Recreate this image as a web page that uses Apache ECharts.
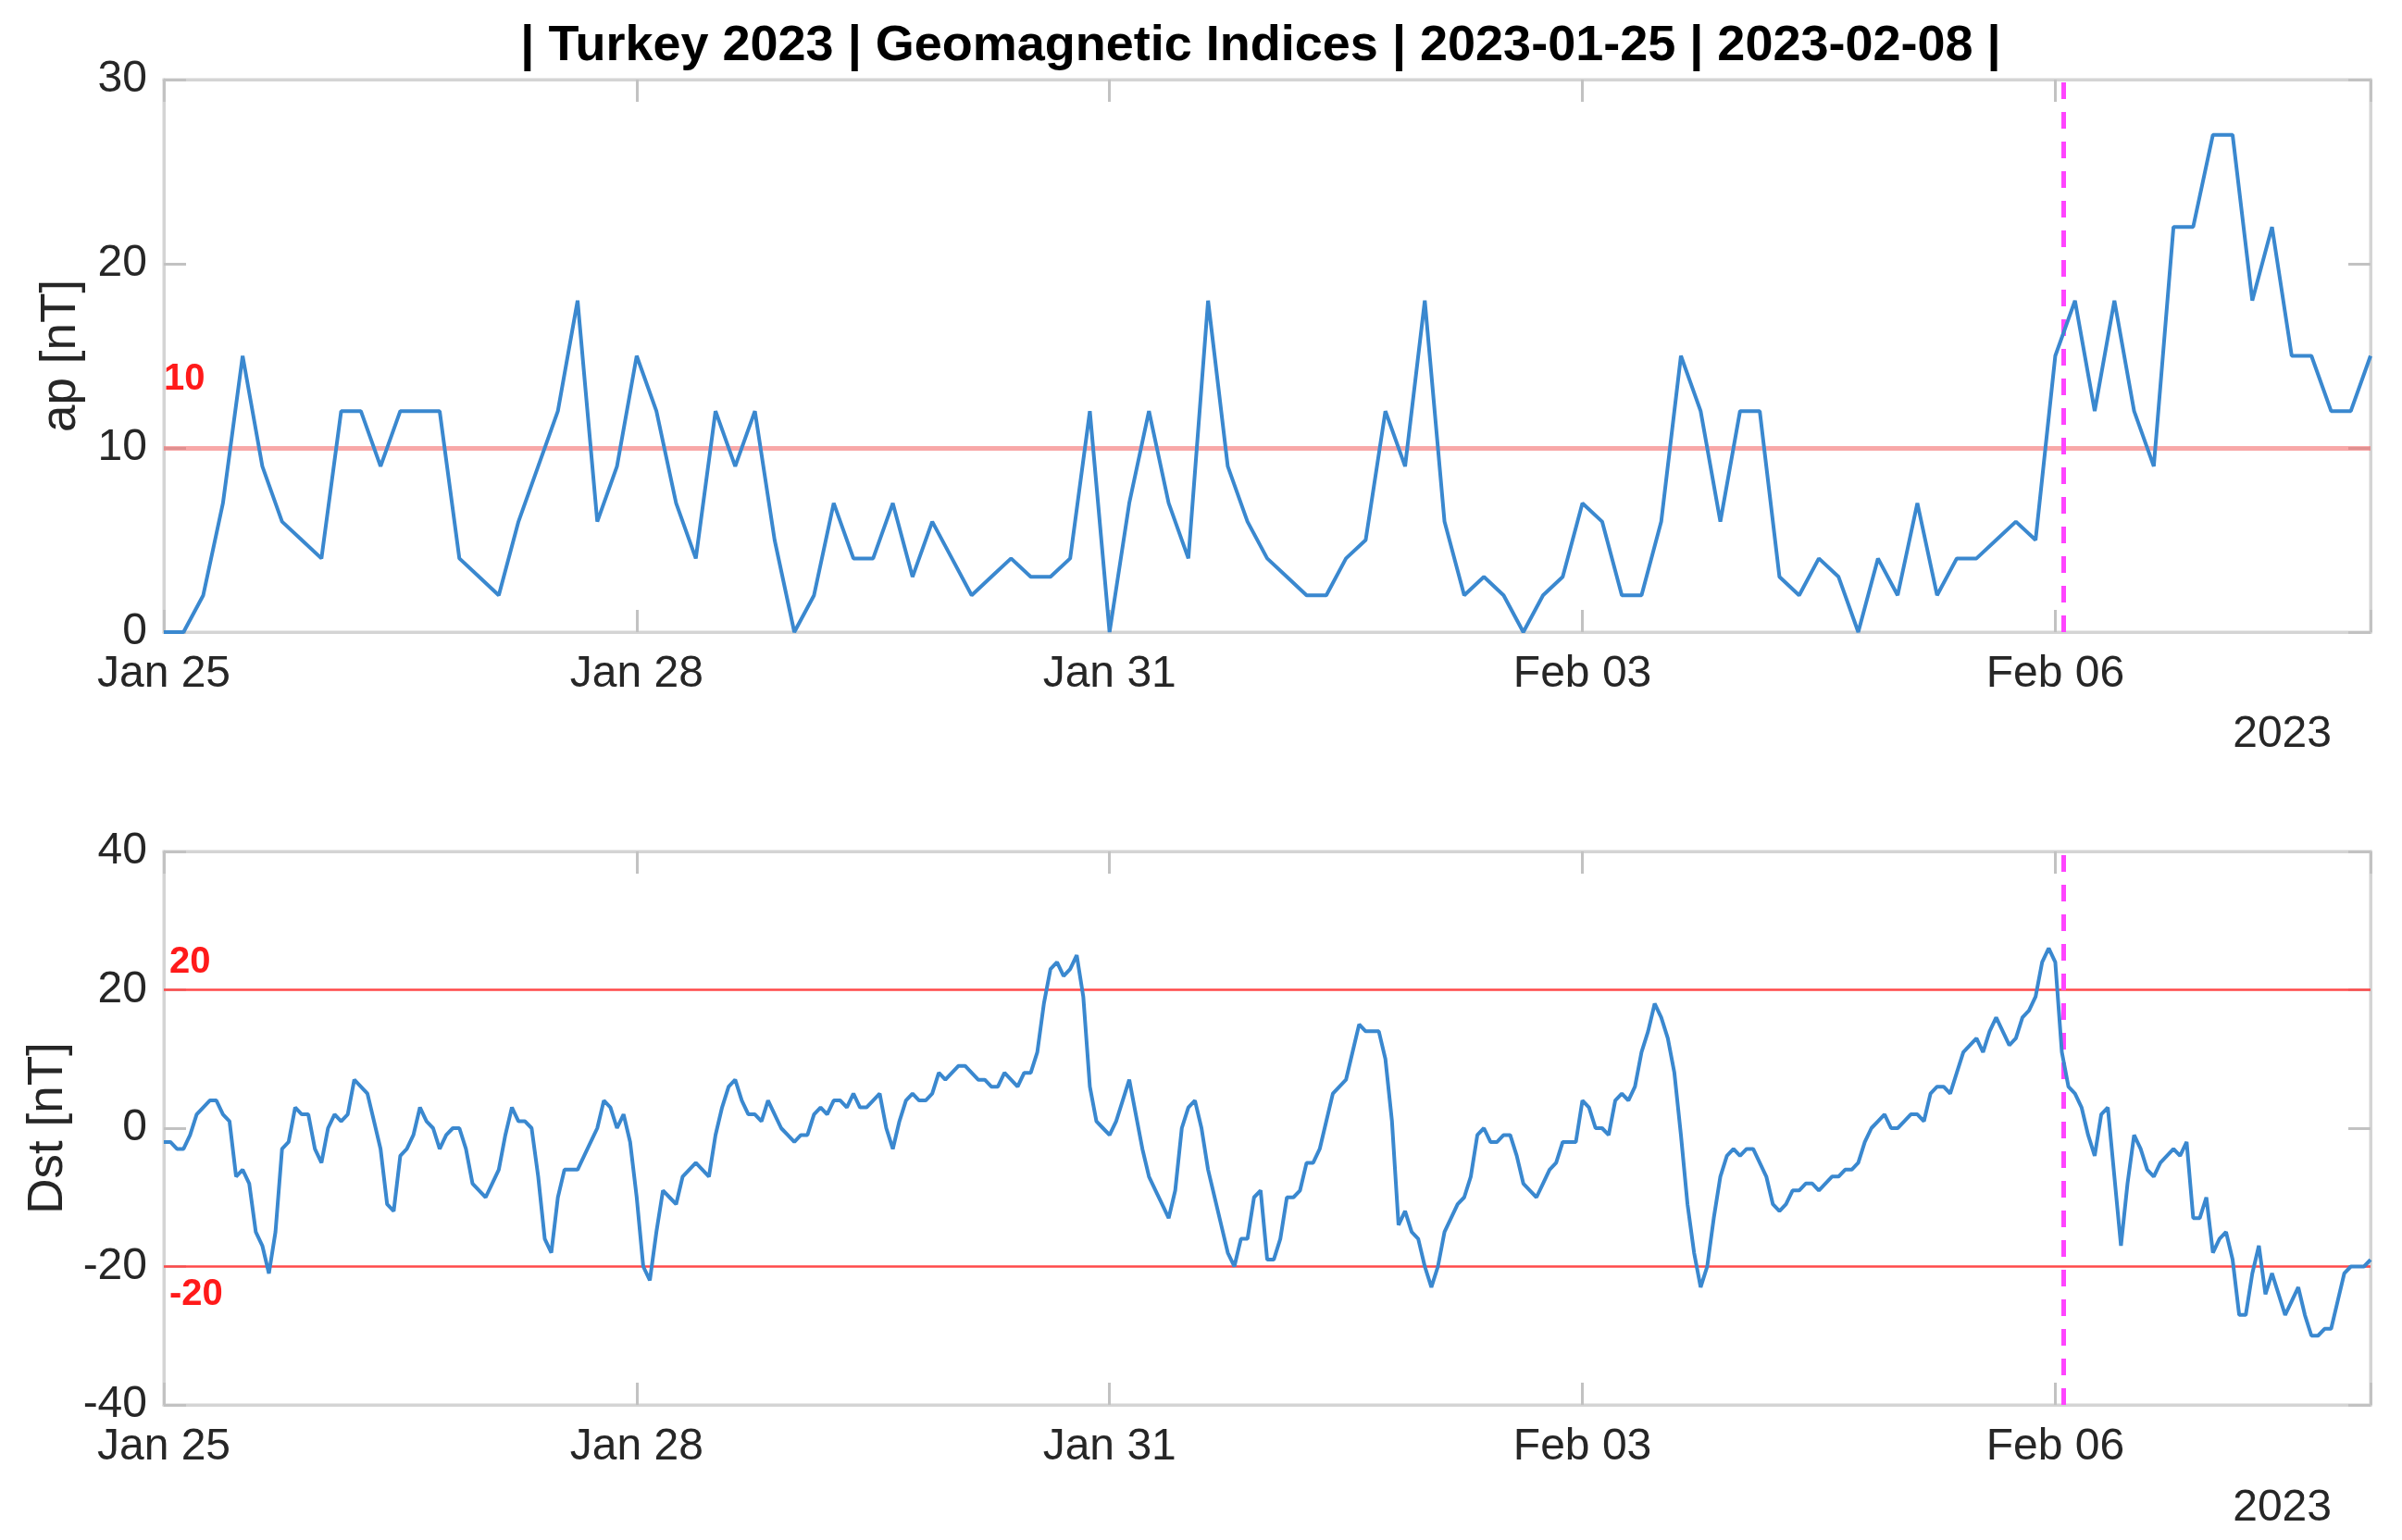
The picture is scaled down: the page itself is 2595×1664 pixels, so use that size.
<!DOCTYPE html>
<html><head><meta charset="utf-8">
<script src="https://cdn.jsdelivr.net/npm/echarts@6/dist/echarts.min.js"></script>
<style>html,body{margin:0;padding:0;background:#fff}#c{width:2595px;height:1664px}</style>
</head><body><div id="c"></div>
<script>
const titleText = '| Turkey 2023 | Geomagnetic Indices | 2023-01-25 | 2023-02-08 |';
const xTickLabels = ['Jan 25', 'Jan 28', 'Jan 31', 'Feb 03', 'Feb 06'];
const xTickStepHours = 72;
const spanHours = 336;            // 2023-01-25 00:00 -> 2023-02-08 00:00
const yearLabel = '2023';

// ap index, 3-hourly, from 2023-01-25 00:00 UT
const apStepHours = 3;
const apValues = [
  0, 0, 2, 7, 15, 9, 6, 5, 4, 12, 12, 9, 12, 12, 12, 4, 3, 2, 6, 9,
  12, 18, 6, 9, 15, 12, 7, 4, 12, 9, 12, 5, 0, 2, 7, 4, 4, 7, 3, 6,
  4, 2, 3, 4, 3, 3, 4, 12, 0, 7, 12, 7, 4, 18, 9, 6, 4, 3, 2, 2,
  4, 5, 12, 9, 18, 6, 2, 3, 2, 0, 2, 3, 7, 6, 2, 2, 6, 15, 12, 6,
  12, 12, 3, 2, 4, 3, 0, 4, 2, 7, 2, 4, 4, 5, 6, 5, 15, 18, 12, 18,
  12, 9, 22, 22, 27, 27, 18, 22, 15, 15, 12, 12, 15
];

// Dst index, hourly, from 2023-01-25 00:00 UT
const dstStepHours = 1;
const dstValues = [
  -2, -2, -3, -3, -1, 2, 3, 4, 4, 2,
  1, -7, -6, -8, -15, -17, -21, -15, -3, -2,
  3, 2, 2, -3, -5, 0, 2, 1, 2, 7,
  6, 5, 1, -3, -11, -12, -4, -3, -1, 3,
  1, 0, -3, -1, 0, 0, -3, -8, -9, -10,
  -8, -6, -1, 3, 1, 1, 0, -7, -16, -18,
  -10, -6, -6, -6, -4, -2, 0, 4, 3, 0,
  2, -2, -10, -20, -22, -15, -9, -10, -11, -7,
  -6, -5, -6, -7, -1, 3, 6, 7, 4, 2,
  2, 1, 4, 2, 0, -1, -2, -1, -1, 2,
  3, 2, 4, 4, 3, 5, 3, 3, 4, 5,
  0, -3, 1, 4, 5, 4, 4, 5, 8, 7,
  8, 9, 9, 8, 7, 7, 6, 6, 8, 7,
  6, 8, 8, 11, 18, 23, 24, 22, 23, 25,
  19, 6, 1, 0, -1, 1, 4, 7, 2, -3,
  -7, -9, -11, -13, -9, 0, 3, 4, 0, -6,
  -10, -14, -18, -20, -16, -16, -10, -9, -19, -19,
  -16, -10, -10, -9, -5, -5, -3, 1, 5, 6,
  7, 11, 15, 14, 14, 14, 10, 1, -14, -12,
  -15, -16, -20, -23, -20, -15, -13, -11, -10, -7,
  -1, 0, -2, -2, -1, -1, -4, -8, -9, -10,
  -8, -6, -5, -2, -2, -2, 4, 3, 0, 0,
  -1, 4, 5, 4, 6, 11, 14, 18, 16, 13,
  8, -1, -11, -18, -23, -20, -13, -7, -4, -3,
  -4, -3, -3, -5, -7, -11, -12, -11, -9, -9,
  -8, -8, -9, -8, -7, -7, -6, -6, -5, -2,
  0, 1, 2, 0, 0, 1, 2, 2, 1, 5,
  6, 6, 5, 8, 11, 12, 13, 11, 14, 16,
  14, 12, 13, 16, 17, 19, 24, 26, 24, 11,
  6, 5, 3, -1, -4, 2, 3, -7, -17, -8,
  -1, -3, -6, -7, -5, -4, -3, -4, -2, -13,
  -13, -10, -18, -16, -15, -19, -27, -27, -21, -17,
  -24, -21, -24, -27, -25, -23, -27, -30, -30, -29,
  -29, -25, -21, -20, -20, -20, -19
];

const apAxis = { min: 0, max: 30, interval: 10, name: 'ap [nT]' };
const dstAxis = { min: -40, max: 40, interval: 20, name: 'Dst [nT]' };
const apThresholds = [10];
const dstThresholds = [20, -20];
const eventHour = 12 * 24 + 1 + 17 / 60;   // 2023-02-06 01:17 UT

const FONT = "'Liberation Sans', Arial, Helvetica, sans-serif";
const frameColor = '#d4d4d4';
const tickColor = '#c2c2c2';
const textColor = '#262626';
const lineColor = '#3a88cf';

function xAxisFor(grid, pos, showLabels) {
  return {
    type: 'value', gridIndex: grid, position: pos,
    min: 0, max: spanHours, interval: xTickStepHours,
    axisLine: { show: true, onZero: false, lineStyle: { color: frameColor, width: 3 } },
    axisTick: { show: true, inside: true, length: 24, lineStyle: { color: tickColor, width: 3 } },
    splitLine: { show: false },
    axisLabel: {
      show: showLabels, fontSize: 48, color: textColor, fontFamily: FONT, margin: 22,
      formatter: function (v) {
        const i = Math.round(v / xTickStepHours);
        return (Math.abs(v - i * xTickStepHours) < 1e-6 && i < xTickLabels.length) ? xTickLabels[i] : '';
      }
    }
  };
}
function yAxisFor(grid, pos, ax, showLabels, nameGap) {
  return {
    type: 'value', gridIndex: grid, position: pos,
    min: ax.min, max: ax.max, interval: ax.interval,
    name: showLabels ? ax.name : '', nameLocation: 'middle', nameGap: nameGap,
    nameTextStyle: { fontSize: 53, color: textColor, fontFamily: FONT },
    axisLine: { show: true, onZero: false, lineStyle: { color: frameColor, width: 3 } },
    axisTick: { show: true, inside: true, length: 24, lineStyle: { color: tickColor, width: 3 } },
    splitLine: { show: false },
    axisLabel: { show: showLabels, fontSize: 48, color: textColor, fontFamily: FONT, margin: 18 }
  };
}
function thresholdLine(v, opts) {
  return {
    yAxis: v,
    lineStyle: { color: opts.color, width: opts.width, type: 'solid' },
    label: {
      show: true, formatter: String(v), position: opts.below ? 'insideStartBottom' : 'insideStartTop',
      distance: opts.distance, color: '#ff1a1a', fontWeight: 'bold', fontSize: 40, fontFamily: FONT
    }
  };
}
const eventLine = {
  xAxis: eventHour,
  lineStyle: { color: '#ff44ff', width: 5, type: [18, 14] },
  label: { show: false }
};

const chart = echarts.init(document.getElementById('c'), null, { renderer: 'canvas' });
chart.setOption({
  animation: false,
  backgroundColor: '#ffffff',
  grid: [
    { left: 177, top: 86, width: 2384, height: 597, show: true, borderColor: frameColor, borderWidth: 3 },
    { left: 177, top: 920, width: 2384, height: 598, show: true, borderColor: frameColor, borderWidth: 3 }
  ],
  xAxis: [xAxisFor(0, 'bottom', true), xAxisFor(0, 'top', false), xAxisFor(1, 'bottom', true), xAxisFor(1, 'top', false)],
  yAxis: [yAxisFor(0, 'left', apAxis, true, 84), yAxisFor(0, 'right', apAxis, false, 0),
          yAxisFor(1, 'left', dstAxis, true, 96), yAxisFor(1, 'right', dstAxis, false, 0)],
  graphic: [
    { type: 'text', x: 1362, y: 50, style: { text: titleText, font: 'bold 54px ' + FONT, fill: '#000', align: 'center', verticalAlign: 'middle' } },
    { type: 'text', x: 2519, y: 794, style: { text: yearLabel, font: '48px ' + FONT, fill: textColor, align: 'right', verticalAlign: 'middle' } },
    { type: 'text', x: 2519, y: 1630, style: { text: yearLabel, font: '48px ' + FONT, fill: textColor, align: 'right', verticalAlign: 'middle' } }
  ],
  series: [
    {
      type: 'line', xAxisIndex: 0, yAxisIndex: 0,
      data: apValues.map((v, i) => [i * apStepHours, v]),
      showSymbol: false, lineStyle: { color: lineColor, width: 4 }, z: 3,
      markLine: {
        silent: true, symbol: ['none', 'none'], z: 2,
        data: apThresholds.map(v => thresholdLine(v, { color: 'rgba(244,110,110,0.6)', width: 5, distance: [0, 54] })).concat([eventLine])
      }
    },
    {
      type: 'line', xAxisIndex: 2, yAxisIndex: 2,
      data: dstValues.map((v, i) => [i * dstStepHours, v]),
      showSymbol: false, lineStyle: { color: lineColor, width: 4 }, z: 3,
      markLine: {
        silent: true, symbol: ['none', 'none'], z: 2,
        data: dstThresholds.map(v => thresholdLine(v, { color: '#ff4a4a', width: 2.5, below: v < 0, distance: [6, 10] })).concat([eventLine])
      }
    }
  ]
});
</script></body></html>
